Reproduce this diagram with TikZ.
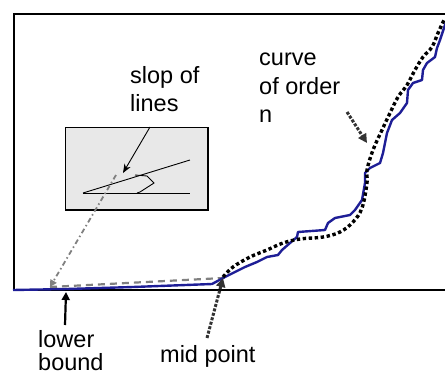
\documentclass[tikz,border=0pt]{standalone}
\usepackage{fontspec}
\setmainfont{Liberation Sans}
\usetikzlibrary{arrows.meta}
\definecolor{curveblue}{RGB}{30,30,150}
\definecolor{boxgray}{RGB}{232,232,232}
\tikzset{
  lbl/.style={anchor=base west,inner sep=0pt,font=\fontsize{23.5}{28}\selectfont},
  frame/.style={line width=2.5pt,line cap=rect},
  dotarrow/.style={line width=3pt,color=black!80,dash pattern=on 3pt off 1.6pt,-{Triangle[length=9pt,width=9pt]}},
  thinline/.style={line width=0.9pt},
}
\begin{document}
\begin{tikzpicture}[x=1pt,y=-1pt]
\useasboundingbox (0,0) rectangle (445,376);
\clip (0,0) rectangle (445,376);
% frame
\draw[frame] (446,14) -- (14,14) -- (14,290) -- (446,290);
% inset box
\draw[thinline,fill=boxgray] (65,127) rectangle (208,210);
\draw[line width=2pt] (208,127) -- (208,210) -- (65,210);
\draw[thinline] (83,193) -- (190,193);
\draw[thinline] (83,193) -- (190,160);
\draw[thinline] (135,175) -- (147,176) -- (154,183) -- (140,192) -- (137,193);
% named points
\coordinate (lowpt) at (50,287);
\coordinate (midpt) at (223,278);
\coordinate (cross) at (116,175);
\coordinate (boxtop) at (150,127);
\coordinate (arrowhead) at (123,173);
\coordinate (lowtail) at (65,325);
\coordinate (lowhead) at (66,292);
\coordinate (midtail) at (207,338);
\coordinate (curvetail) at (347,112);
\coordinate (curvehead) at (367,143);
% slope guide lines
\draw[gray,line width=1.8pt,dash pattern=on 5pt off 3pt on 1.5pt off 3pt,-{Triangle[length=7pt,width=7pt]}] (cross) -- (lowpt);
\draw[gray,line width=2.2pt,dash pattern=on 7pt off 5pt] (lowpt) -- (midpt);
% blue curve
\draw[curveblue,line width=2.4pt,line join=round] (13,290) -- (67,289) -- (133,287) -- (212,284)
  -- (225,277) -- (233,273) -- (245,267) -- (257,262) -- (267,257) -- (278,255) -- (282,250)
  -- (290,243) -- (297,237) -- (298,232) -- (325,230) -- (328,223) -- (335,218) -- (350,215)
  -- (355,210) -- (362,200) -- (365,183) -- (365,173) -- (370,168) -- (380,163) -- (383,153)
  -- (387,133) -- (392,120) -- (400,113) -- (407,103) -- (408,90) -- (413,83) -- (422,80)
  -- (423,70) -- (427,63) -- (435,57) -- (437,48) -- (440,40) -- (446,22);
% dotted curve of order n
\draw[black,line width=3.4pt,dash pattern=on 3.4pt off 2.6pt] plot[smooth,tension=0.6] coordinates {
  (223,277) (233,267) (250,257) (267,250) (283,243) (300,239) (323,237) (340,232) (353,222)
  (362,208) (367,183) (367,170) (373,150) (382,130) (390,113) (398,97) (407,85) (415,70)
  (423,57) (432,47) (438,33) (444,20)};
% arrows
\draw[line width=0.9pt,-{Stealth[length=9pt,width=7pt]}] (boxtop) -- (arrowhead);
\draw[line width=2.2pt,-{Triangle[length=8pt,width=8pt]}] (lowtail) -- (lowhead);
\draw[dotarrow] (midtail) -- (midpt);
\draw[dotarrow] (curvetail) -- (curvehead);
% labels
\node[lbl] (slop1) at (130,83) {slop of};
\node[lbl] (slop2) at (130,111) {lines};
\node[lbl] (curve1) at (259,65) {curve};
\node[lbl] (curve2) at (259,94) {of order};
\node[lbl] (curve3) at (259,122) {n};
\node[lbl] (lower1) at (38,347) {lower};
\node[lbl] (lower2) at (38,370) {bound};
\node[lbl] (midlbl) at (160,362) {mid point};
\end{tikzpicture}
\end{document}
